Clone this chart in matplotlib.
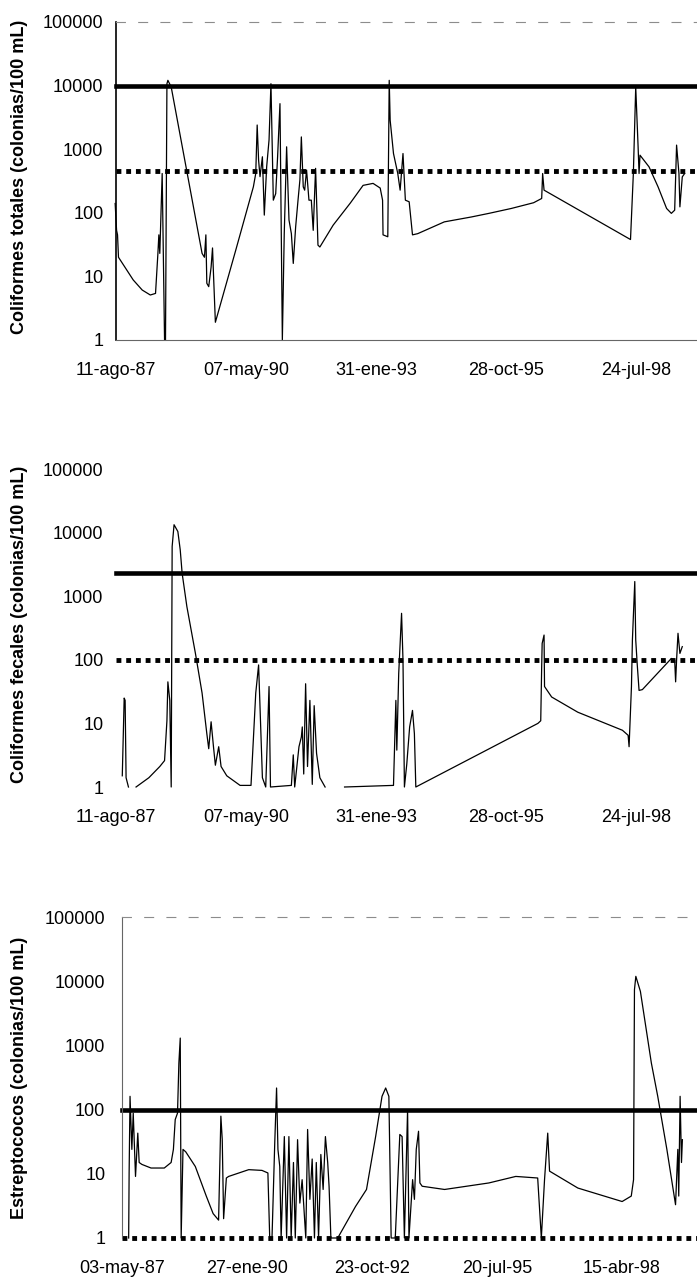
import matplotlib
matplotlib.use('Agg')
import matplotlib.pyplot as plt
import numpy as np
import pandas as pd
from matplotlib.ticker import FixedLocator, NullLocator

plt.rcParams['font.family'] = ['Liberation Sans', 'DejaVu Sans']

nan = np.nan

# ---- Coliformes totales (fecha en año decimal, colonias/100 mL)
tot_year = [1987.59, 1987.62, 1987.64, 1987.66, 1987.97, 1988.16, 1988.33, 1988.44, 1988.49,
            1988.51, 1988.53, 1988.58, 1988.63, 1988.65, 1988.68, 1988.70, 1988.77, 1989.42,
            1989.47, 1989.50, 1989.52, 1989.56, 1989.61, 1989.64, 1989.66, 1989.70, 1990.13,
            1990.50, 1990.55, 1990.58, 1990.61, 1990.64, 1990.69, 1990.73, 1990.78, 1990.83,
            1990.87, 1990.92, 1990.97, 1991.01, 1991.06, 1991.11, 1991.15, 1991.20, 1991.25,
            1991.30, 1991.34, 1991.39, 1991.44, 1991.48, 1991.51, 1991.55, 1991.58, 1991.62,
            1991.67, 1991.72, 1991.76, 1991.81, 1991.86, 1991.90, 1992.18, 1992.54, 1992.81,
            1993.02, 1993.17, 1993.22, 1993.23, 1993.33, 1993.36, 1993.38, 1993.45,
            1993.54, 1993.59, 1993.65, 1993.70, 1993.78, 1993.85, 1993.96, 1994.52, 1995.09,
            1995.46, 1995.93, 1996.40, 1996.57, 1996.59, 1996.62, 1998.44, 1998.50, 1998.55,
            1998.60, 1998.62, 1998.64, 1998.83, 1999.02, 1999.20, 1999.30, 1999.37, 1999.41,
            1999.46, 1999.48, 1999.53, 1999.58]
tot_val = [140, 53, 45, 20, 8.8, 6.1, 5.1, 5.4, 23,
           45, 23, 415, 1, 1, 10700, 12100, 9500, 23,
           20, 45, 7.8, 6.9, 14, 28, 11, 1.9, 26,
           256, 415, 2400, 670, 370, 760, 92, 530, 1400,
           10700, 158, 200, 760, 5200, 1, 47, 1090, 77,
           47, 16, 60, 158, 330, 1560, 256, 227, 470,
           158, 158, 53, 500, 31, 29, 64, 142, 270,
           290, 245, 158, 45, 42, 12100, 2850, 855,
           415, 227, 855, 158, 149, 45, 47, 72, 86,
           98, 117, 144, 168, 415, 227, 38, 415, 9500,
           1090, 415, 805, 528, 256, 117, 98, 110, 1160,
           415, 124, 367, 415]

# ---- Coliformes fecales
fec_year = [1987.74, 1987.76, 1987.78, 1987.80, 1987.82, 1987.87, 1987.95, 1988.03, 1988.30,
            1988.53, 1988.63, 1988.68, 1988.70, 1988.74, 1988.77, 1988.79, 1988.83, 1988.91,
            1988.96, 1989.00, 1989.10, 1989.28, 1989.42, 1989.52, 1989.56, 1989.61, 1989.66,
            1989.70, 1989.77, 1989.82, 1989.94, 1990.22, 1990.45, 1990.55, 1990.61, 1990.69,
            1990.76, 1990.83, 1990.86, 1991.30, 1991.34, 1991.37, 1991.46, 1991.51, 1991.53,
            1991.56, 1991.60, 1991.64, 1991.69, 1991.74, 1991.78, 1991.83, 1991.90, 1992.01,
            1992.20, 1992.42, 1993.45, 1993.50, 1993.52, 1993.56, 1993.62, 1993.65, 1993.68,
            1993.73, 1993.79, 1993.85, 1993.89, 1993.92, 1996.49, 1996.55, 1996.57, 1996.58,
            1996.62, 1996.63, 1996.78, 1997.33, 1998.27, 1998.39, 1998.41, 1998.46, 1998.48,
            1998.53, 1998.55, 1998.58, 1998.62, 1998.69, 1999.30, 1999.37, 1999.39, 1999.41,
            1999.44, 1999.48, 1999.53]
fec_val = [1.5, 6.1, 25, 23, 1.4, 1, nan, 1, 1.4,
           2.1, 2.6, 11, 45, 23, 1, 6050, 13300, 10400,
           5360, 2300, 686, 126, 30, 6.9, 4.0, 10.6, 4.3,
           2.2, 4.3, 2.1, 1.5, 1.06, 1.06, 30, 83, 1.4,
           1, 38, 1, 1.06, 3.2, 1, 4.3, 6.1, 8.8,
           1.6, 42, 2.1, 23, 1.1, 19, 3.4, 1.4, 1,
           nan, 1, 1.06, 23, 3.8, 61, 538, 99, 1,
           2.3, 8.8, 16, 6.9, 1, 10, 11, 78, 181,
           245, 38, 26, 15, 7.8, 6.5, 4.3, 38, 205,
           1700, 205, 88, 33, 34, 105, 99, 45, 99,
           261, 126, 161]

# ---- Estreptococos
est_year = [1987.48, 1987.49, 1987.51, 1987.55, 1987.58, 1987.63, 1987.68, 1987.71, 1987.77,
            1987.97, 1988.26, 1988.41, 1988.46, 1988.50, 1988.55, 1988.58, 1988.61, 1988.63,
            1988.67, 1988.73, 1988.94, 1989.18, 1989.33, 1989.45, 1989.50, 1989.53, 1989.56,
            1989.62, 1989.67, 1990.11, 1990.40, 1990.53, 1990.57, 1990.62, 1990.68, 1990.72,
            1990.75, 1990.79, 1990.82, 1990.89, 1990.94, 1990.99, 1991.04, 1991.09, 1991.13,
            1991.18, 1991.23, 1991.28, 1991.36, 1991.40, 1991.45, 1991.50, 1991.55, 1991.59,
            1991.64, 1991.69, 1991.74, 1991.79, 1991.84, 1991.87, 1991.91, 1992.06, 1992.45,
            1992.69, 1992.89, 1993.03, 1993.11, 1993.18, 1993.23, 1993.32, 1993.42, 1993.47,
            1993.52, 1993.59, 1993.62, 1993.70, 1993.74, 1993.78, 1993.83, 1993.86, 1993.91,
            1994.40, 1995.37, 1995.96, 1996.44, 1996.52, 1996.59, 1996.66, 1996.70, 1997.32,
            1998.29, 1998.49, 1998.54, 1998.56, 1998.59, 1998.69, 1998.93, 1999.07, 1999.27,
            1999.46, 1999.51, 1999.53, 1999.56, 1999.59, 1999.61]
est_val = [1, 10.3, 161, 24, 88, 9.1, 43, 15, 14,
           12.3, 12.3, 15, 24, 70, 88, 532, 1300, 1,
           24, 22, 13, 4.5, 2.4, 1.9, 79, 34, 2.0,
           8.6, 9.1, 11.6, 11.3, 10.3, 1, 1, 30, 217,
           24, 13, 1, 38, 1, 38, 1, 15, 1,
           34, 3.5, 8.1, 1, 49, 4.0, 17, 1, 15,
           1, 20, 5.7, 38, 15, 6.4, 1, 1, 3.1,
           5.7, 38, 161, 217, 161, 1, 1, 41, 38,
           1, 100, 1, 8.1, 4.0, 24, 46, 7.2, 6.4,
           5.7, 7.2, 9.1, 8.6, 1, 8.1, 43, 11, 6.0,
           3.7, 4.5, 8.1, 7380, 11900, 6950, 532, 161, 24,
           3.3, 24, 4.5, 161, 15, 34]

# limites (linea gruesa) y guias (linea punteada)
tot_limit, tot_guide = 10000, 450
fec_limit, fec_guide = 2300, 100
est_limit, est_guide = 100, 1

ticks_a = ['1987-08-11', '1990-05-07', '1993-01-31', '1995-10-28', '1998-07-24']
labels_a = ['11-ago-87', '07-may-90', '31-ene-93', '28-oct-95', '24-jul-98']
ticks_b = ['1987-05-03', '1990-01-27', '1992-10-23', '1995-07-20', '1998-04-15']
labels_b = ['03-may-87', '27-ene-90', '23-oct-92', '20-jul-95', '15-abr-98']

y_ticks = [1, 10, 100, 1000, 10000, 100000]
y_labels = ['1', '10', '100', '1000', '10000', '100000']


def dec_year(s):
    d = pd.Timestamp(s)
    return d.year + (d.dayofyear - 1) / 365.25


def setup(ax, xticks, xlabels, x0, x1, ypad):
    ax.set_yscale('log')
    ax.set_ylim(1, 100000)
    ax.set_xlim(x0, x1)
    ax.yaxis.set_major_locator(FixedLocator(y_ticks))
    ax.yaxis.set_minor_locator(NullLocator())
    ax.set_yticklabels(y_labels)
    ax.set_xticks([dec_year(t) for t in xticks])
    ax.set_xticklabels(xlabels)
    ax.tick_params(axis='y', length=0, pad=ypad, labelsize=13)
    ax.tick_params(axis='x', length=0, pad=16, labelsize=13)
    for s in ax.spines.values():
        s.set_visible(False)


def draw_refs(ax, limit, guide):
    ax.axhline(limit, color='black', lw=3.3, clip_on=False)
    ax.axhline(guide, color='black', lw=3.5, ls=(0, (1, 1)), clip_on=False)


fig = plt.figure(figsize=(6.97, 12.8), dpi=100)
W, H = 697.0, 1280.0

# panel 1
ax1 = fig.add_axes([116 / W, 1 - 340 / H, 1 - 116 / W, 318 / H])
setup(ax1, ticks_a, labels_a, dec_year(ticks_a[0]), 1999.84, 9)
ax1.spines['left'].set_visible(True)
ax1.spines['left'].set_linewidth(1.2)
ax1.spines['bottom'].set_visible(True)
ax1.spines['bottom'].set_color('0.4')
ax1.spines['top'].set_visible(True)
ax1.spines['top'].set_color('0.55')
ax1.spines['top'].set_linewidth(0.8)
ax1.spines['top'].set_linestyle((0, (8, 12)))
draw_refs(ax1, tot_limit, tot_guide)
ax1.plot(tot_year, tot_val, color='black', lw=0.9, clip_on=False)

# panel 2
ax2 = fig.add_axes([116 / W, 1 - 787 / H, 1 - 116 / W, 318 / H])
setup(ax2, ticks_a, labels_a, dec_year(ticks_a[0]), 1999.84, 9)
draw_refs(ax2, fec_limit, fec_guide)
ax2.plot(fec_year, fec_val, color='black', lw=0.9, clip_on=False)

# panel 3
ax3 = fig.add_axes([122 / W, 1 - 1238 / H, 1 - 122 / W, 321 / H])
setup(ax3, ticks_b, labels_b, dec_year(ticks_b[0]), 1999.93, 12)
ax3.spines['left'].set_visible(True)
ax3.spines['left'].set_color('0.4')
ax3.spines['top'].set_visible(True)
ax3.spines['top'].set_color('0.55')
ax3.spines['top'].set_linewidth(0.8)
ax3.spines['top'].set_linestyle((0, (8, 12)))
draw_refs(ax3, est_limit, est_guide)
ax3.plot(est_year, est_val, color='black', lw=0.9, clip_on=False)

# titulos de eje
fig.text(20 / W, 1 - 177 / H, 'Coliformes totales (colonias/100 mL)', rotation=90,
         ha='center', va='center', fontsize=13, fontweight='bold')
fig.text(20 / W, 1 - 624 / H, 'Coliformes fecales (colonias/100 mL)', rotation=90,
         ha='center', va='center', fontsize=13, fontweight='bold')
fig.text(20 / W, 1 - 1078 / H, 'Estreptococos (colonias/100 mL)', rotation=90,
         ha='center', va='center', fontsize=13, fontweight='bold')

fig.savefig('out.png', dpi=100)
